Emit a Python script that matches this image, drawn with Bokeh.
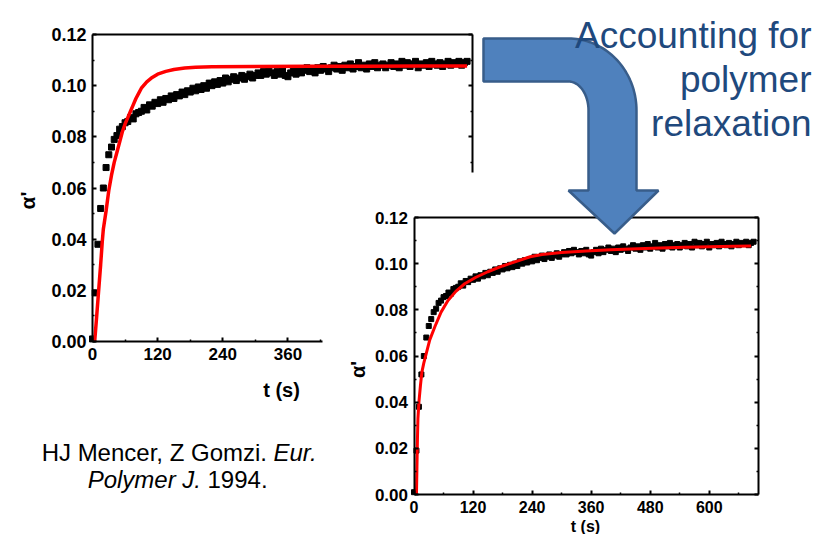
import numpy as np
from bokeh.plotting import figure
from bokeh.models import Range1d, LinearAxis, FixedTicker, PrintfTickFormatter
from bokeh.core.properties import value
from bokeh.embed import file_html
from bokeh.resources import INLINE

# ---------------- data ----------------
t_obs = [0, 5, 10, 15, 20, 25, 30, 35, 40, 45,
         50, 55, 60, 65, 70, 75, 80, 85, 90, 95,
         100, 105, 110, 115, 120, 125, 130, 135, 140, 145,
         150, 155, 160, 165, 170, 175, 180, 185, 190, 195,
         200, 205, 210, 215, 220, 225, 230, 235, 240, 245,
         250, 255, 260, 265, 270, 275, 280, 285, 290, 295,
         300, 305, 310, 315, 320, 325, 330, 335, 340, 345,
         350, 355, 360, 365, 370, 375, 380, 385, 390, 395,
         400, 405, 410, 415, 420, 425, 430, 435, 440, 445,
         450, 455, 460, 465, 470, 475, 480, 485, 490, 495,
         500, 505, 510, 515, 520, 525, 530, 535, 540, 545,
         550, 555, 560, 565, 570, 575, 580, 585, 590, 595,
         600, 605, 610, 615, 620, 625, 630, 635, 640, 645,
         650, 655, 660, 665, 670, 675, 680, 685, 690]
a_obs = [0.001, 0.019, 0.038, 0.052, 0.060, 0.068, 0.073, 0.076, 0.079, 0.0805,
         0.083, 0.084, 0.0855, 0.086, 0.0875, 0.087, 0.089, 0.0895, 0.090, 0.0915,
         0.0905, 0.0925, 0.092, 0.0935, 0.093, 0.0945, 0.0935, 0.095, 0.0945, 0.096,
         0.095, 0.0965, 0.096, 0.0975, 0.0965, 0.098, 0.0975, 0.099, 0.098, 0.0995,
         0.0985, 0.100, 0.099, 0.101, 0.100, 0.1015, 0.1005, 0.102, 0.101, 0.103,
         0.1015, 0.1025, 0.1035, 0.102, 0.103, 0.104, 0.1025, 0.1035, 0.1045, 0.103,
         0.104, 0.105, 0.104, 0.1055, 0.1045, 0.106, 0.105, 0.104, 0.1055, 0.1045,
         0.106, 0.104, 0.1035, 0.105, 0.106, 0.1045, 0.1065, 0.105, 0.106, 0.107,
         0.1055, 0.1065, 0.105, 0.107, 0.106, 0.1075, 0.1065, 0.1055, 0.107, 0.108,
         0.1065, 0.1075, 0.106, 0.108, 0.107, 0.1085, 0.1065, 0.1075, 0.109, 0.107,
         0.108, 0.1065, 0.1085, 0.1075, 0.109, 0.107, 0.108, 0.1085, 0.107, 0.108,
         0.109, 0.1075, 0.1085, 0.107, 0.1095, 0.108, 0.109, 0.1075, 0.1085, 0.1095,
         0.107, 0.1085, 0.108, 0.109, 0.1075, 0.1095, 0.1085, 0.108, 0.109, 0.1075,
         0.1085, 0.1095, 0.108, 0.109, 0.1085, 0.1095, 0.108, 0.109, 0.1095]

# fit without relaxation (left chart)
t_fit1 = [4, 7, 11, 15, 18, 20, 25, 30, 35, 40,
          45, 50, 55, 60, 65, 70, 75, 80, 85, 90,
          100, 110, 120, 135, 150, 170, 190, 220, 300, 400,
          500, 600, 690]
a_fit1 = [0.000, 0.008, 0.019, 0.030, 0.039, 0.044, 0.051, 0.059, 0.065, 0.070,
          0.074, 0.078, 0.082, 0.085, 0.0875, 0.090, 0.0925, 0.095, 0.097, 0.099,
          0.1015, 0.1032, 0.1045, 0.1056, 0.1063, 0.1069, 0.1072, 0.1074, 0.1075, 0.1076,
          0.1076, 0.1077, 0.1077]

# fit with polymer relaxation (right chart)
t_fit2 = [5, 6, 7, 8, 10, 13, 16, 20, 26, 32,
          43, 55, 69, 85, 103, 125, 150, 180, 205, 236,
          260, 300, 350, 400, 440, 500, 550, 600, 650, 685]
a_fit2 = [0.000, 0.012, 0.024, 0.033, 0.040, 0.047, 0.053, 0.057, 0.062, 0.067,
          0.073, 0.079, 0.084, 0.088, 0.0913, 0.094, 0.0965, 0.099, 0.1008, 0.1030,
          0.1040, 0.1048, 0.1055, 0.1060, 0.1064, 0.1068, 0.1071, 0.1073, 0.1075, 0.1076]

x_major = [0, 120, 240, 360, 480, 600]
x_minor = [60, 180, 300, 420, 540, 660]
y_major = [0.0, 0.02, 0.04, 0.06, 0.08, 0.10, 0.12]
y_minor = [0.01, 0.03, 0.05, 0.07, 0.09, 0.11]
T_MAX = 700
A_MAX = 0.12

title_lines = ["Accounting for", "polymer", "relaxation"]

# ---------------- layout ----------------
W, H = 818, 534

p = figure(width=W, height=H, x_range=Range1d(0, W), y_range=Range1d(H, 0),
           output_backend="svg", toolbar_location=None, min_border=0,
           x_axis_location=None, y_axis_location=None, outline_line_color=None,
           background_fill_color="white", border_fill_color="white")
p.grid.visible = False


def make_ranges(px0, px1, py0, py1):
    sx = T_MAX / (px1 - px0)
    xr = Range1d(-px0 * sx, (W - px0) * sx)
    sy = A_MAX / (py0 - py1)
    yr = Range1d(-(H - py0) * sy, py0 * sy)
    return xr, yr


x1r, y1r = make_ranges(92, 472, 341, 34)
x2r, y2r = make_ranges(413.5, 758, 494, 217)
p.extra_x_ranges = {"x1": x1r, "x2": x2r}
p.extra_y_ranges = {"y1": y1r, "y2": y2r}


def add_frame(k, lvl, fs_x, fs_y):
    base = dict(x_range_name="x" + k, y_range_name="y" + k, level=lvl,
                axis_line_width=2, axis_line_color="black",
                major_tick_in=4, major_tick_out=0, minor_tick_in=2, minor_tick_out=0,
                major_tick_line_width=2, minor_tick_line_width=1.5,
                major_tick_line_color="black", minor_tick_line_color="black",
                major_label_text_font="Liberation Sans",
                major_label_text_font_style="bold",
                major_label_text_color="black",
                major_label_standoff=6)
    xt = FixedTicker(ticks=x_major, minor_ticks=x_minor)
    yt = FixedTicker(ticks=y_major, minor_ticks=y_minor)
    bottom = LinearAxis(fixed_location=0, bounds=(0, T_MAX), ticker=xt,
                        major_label_text_font_size=fs_x, **base)
    top = LinearAxis(fixed_location=A_MAX, bounds=(0, T_MAX), ticker=xt,
                     major_label_text_font_size=fs_x, **base)
    top.major_label_text_color = None
    top.major_tick_in = 0
    top.minor_tick_in = 0
    left = LinearAxis(fixed_location=0, bounds=(0, A_MAX), ticker=yt,
                      formatter=PrintfTickFormatter(format="%.2f"),
                      major_label_text_font_size=fs_y, **base)
    right = LinearAxis(fixed_location=T_MAX, bounds=(0, A_MAX), ticker=yt,
                       major_label_text_font_size=fs_y, **base)
    right.major_label_text_color = None
    p.add_layout(bottom, "below")
    p.add_layout(top, "above")
    p.add_layout(left, "left")
    p.add_layout(right, "right")


# ---- chart 1 (original model) ----
p.scatter(t_obs, a_obs, marker="square", size=6, color="black",
          x_range_name="x1", y_range_name="y1", level="image")
p.line(t_fit1, a_fit1, line_color="#ff0000", line_width=3.5,
       x_range_name="x1", y_range_name="y1", level="image")
add_frame("1", "underlay", "17px", "18px")
p.text(x=[281], y=[389], text=["t (s)"], text_align="center",
       text_baseline="middle", text_font=value("Liberation Sans"),
       text_font_style="bold", text_font_size="20px", text_color="black")
p.text(x=[27], y=[200], text=["α'"], angle=np.pi / 2,
       text_align="center", text_baseline="middle",
       text_font=value("Liberation Sans"), text_font_style="bold",
       text_font_size="21px", text_color="black")

# white backing of chart 2 covering chart 1's lower right
p.quad(left=[322], right=[W], top=[172], bottom=[H],
       fill_color="white", line_color=None, level="glyph")

# ---- chart 2 (with relaxation) ----
p.scatter(t_obs, a_obs, marker="square", size=5, color="black",
          x_range_name="x2", y_range_name="y2", level="glyph")
p.line(t_fit2, a_fit2, line_color="#ff0000", line_width=3,
       x_range_name="x2", y_range_name="y2", level="glyph")
add_frame("2", "guide", "16px", "17px")
p.text(x=[585], y=[526], text=["t (s)"], text_align="center",
       text_baseline="middle", text_font=value("Liberation Sans"),
       text_font_style="bold", text_font_size="16px", text_color="black",
       level="guide")
p.text(x=[357], y=[369], text=["α'"], angle=np.pi / 2,
       text_align="center", text_baseline="middle",
       text_font=value("Liberation Sans"), text_font_style="bold",
       text_font_size="20px", text_color="black", level="guide")

# ---- curved arrow ----
acx, acy = 568, 110
th_o = np.linspace(np.pi / 2, 0, 40)
th_i = np.linspace(0, np.pi / 2, 40)
arrow_x = ([483] + list(acx + 68 * np.cos(th_o)) +
           [636, 658, 614, 568, 588] +
           list(acx + 20 * np.cos(th_i)) + [483])
arrow_y = ([38] + list(acy - 72 * np.sin(th_o)) +
           [190, 190, 233, 190, 190] +
           list(acy - 29 * np.sin(th_i)) + [81])
p.patch(arrow_x, arrow_y, fill_color="#4F81BD", line_color="#385D8A",
        line_width=2.5, level="annotation")

# ---- texts ----
p.text(x=[811] * 3, y=[35, 79, 123], text=title_lines,
       text_align="right", text_baseline="alphabetic",
       text_font=value("Liberation Sans"), text_font_size="37px",
       text_color="#1F497D", level="overlay")

cite_font = dict(text_font=value("Liberation Sans"), text_font_size="24px",
                 text_color="black", text_baseline="alphabetic", level="overlay")
p.text(x=[266.5], y=[451.7], text=["HJ Mencer, Z Gomzi."],
       text_align="right", **cite_font)
p.text(x=[273], y=[451.7], text=["Eur."], text_align="left",
       text_font_style="italic", **cite_font)
p.text(x=[200.5], y=[479.3], text=["Polymer J."], text_align="right",
       text_font_style="italic", **cite_font)
p.text(x=[207], y=[479.3], text=["1994."], text_align="left",
       **cite_font)

open("out.html", "w").write(file_html(p, INLINE))
